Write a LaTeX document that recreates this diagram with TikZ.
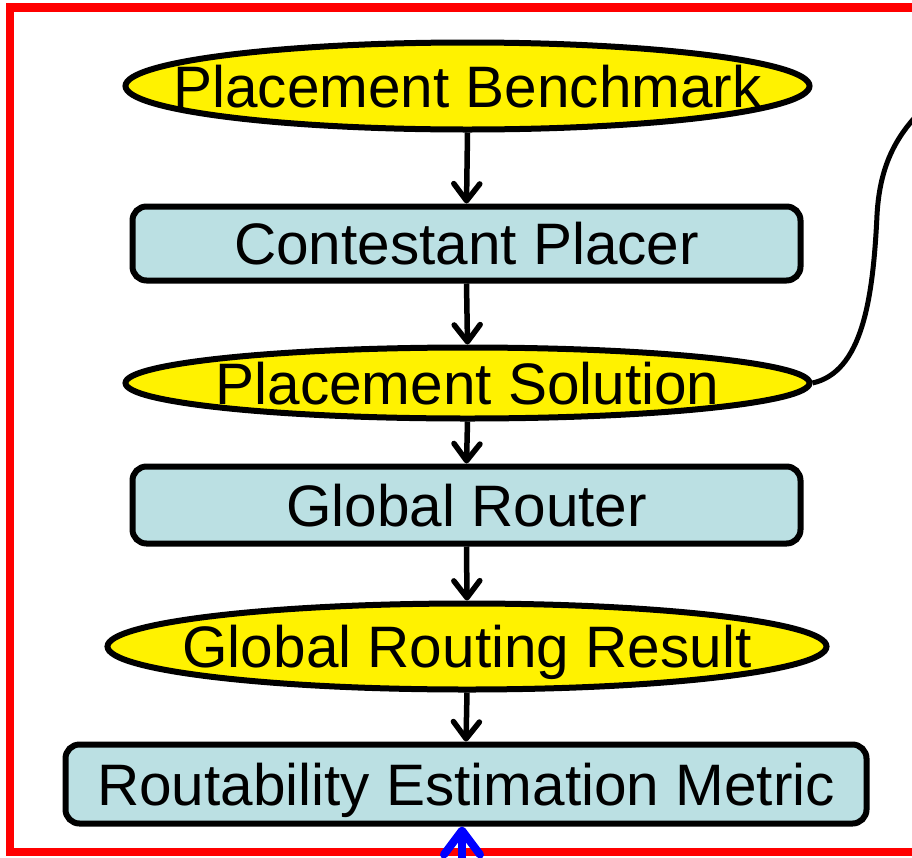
\documentclass[tikz,border=0pt]{standalone}
\usepackage{fontspec}
\setmainfont{Liberation Sans}
\usetikzlibrary{shapes.geometric,arrows.meta}
\definecolor{boxfill}{RGB}{187,224,227}
\newcommand\bigtxt{\fontsize{58.5}{60}\selectfont}
\begin{document}
\begin{tikzpicture}[x=1pt,y=-1pt,
  ell/.style={ellipse, draw=black, line width=6pt, fill=yellow, inner sep=0pt},
  lbl/.style={font=\bigtxt, text height=42pt, text depth=0pt, inner sep=0pt},
  box/.style={rectangle, rounded corners=14pt, draw=black, line width=6pt, fill=boxfill, inner sep=0pt, font=\bigtxt, text height=42pt, text depth=0pt},
  arr/.style={line width=5.5pt, -{Straight Barb[length=17pt,width=26pt,round]}},
  barr/.style={blue, line width=8pt, -{Straight Barb[length=24pt,width=36pt,round]}},
]
\useasboundingbox (0,0) rectangle (912,857);
\clip (0,0) rectangle (912,857);
\fill[white] (0,0) rectangle (912,857);
\draw[red, line width=8.5pt] (10,7.5) rectangle (950,852);

\node[ell, minimum width=684pt, minimum height=87pt, label={[lbl]center:Placement Benchmark}] (e1) at (467.5,86) {};
\node[box, minimum width=668pt, minimum height=74pt] (b1) at (466.5,243.5) {Contestant Placer};
\node[ell, minimum width=684pt, minimum height=71pt, label={[lbl]center:Placement Solution}] (e2) at (467.5,383) {};
\node[box, minimum width=668pt, minimum height=77pt] (b2) at (466.5,505) {Global Router};
\node[ell, minimum width=719pt, minimum height=86pt, label={[lbl]center:Global Routing Result}] (e3) at (467,646.5) {};
\node[box, minimum width=801pt, minimum height=79pt] (b3) at (466,784) {Routability Estimation Metric};

\draw[arr] (e1.south) -- (b1.north);
\draw[arr] (b1.south) -- (e2.north);
\draw[arr] (e2.south) -- (b2.north);
\draw[arr] (b2.south) -- (e3.north);
\draw[arr] (e3.south) -- (b3.north);

\coordinate (bstart) at (462,910);
\draw[barr] (bstart) -- (b3.south -| bstart);

\coordinate (cend) at (935,98);
\draw[line width=5pt] (e2.east) .. controls (862,372) and (873,300) .. (877,215) .. controls (880,160) and (900,128) .. (cend);
\end{tikzpicture}
\end{document}
